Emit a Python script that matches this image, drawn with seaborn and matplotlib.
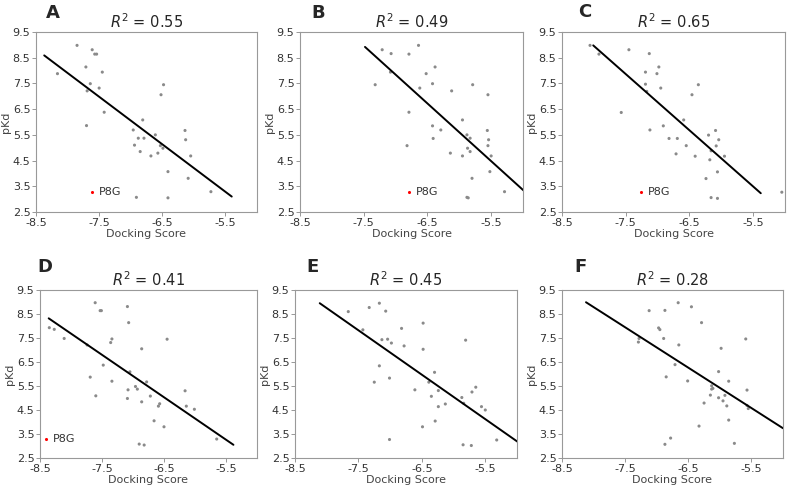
import numpy as np
import pandas as pd
import matplotlib
matplotlib.use('Agg')
from matplotlib import pyplot as plt
import seaborn as sns

sns.set_style('white')
plt.rcParams['font.family'] = ['DejaVu Sans']

# panel A
a_x = [-7.85, -7.61, -7.57, -7.54, -8.16, -7.71, -7.45, -7.64, -7.50, -7.69, -7.42, -7.70,
       -6.81, -6.48, -6.52, -6.96, -6.61, -6.88, -6.79, -6.94, -6.85, -6.68, -6.57, -6.53,
       -6.49, -6.14, -6.13, -6.05, -6.41, -6.09, -5.73, -6.91, -6.41]
a_y = [8.98, 8.81, 8.64, 8.64, 7.88, 8.14, 7.94, 7.49, 7.32, 7.21, 6.38, 5.86,
       6.08, 7.45, 7.06, 5.69, 5.50, 5.37, 5.37, 5.10, 4.85, 4.68, 4.79, 5.08,
       4.98, 5.67, 5.31, 4.68, 4.07, 3.81, 3.29, 3.07, 3.05]
a_fit_x = [-8.37, -5.40]
a_fit_y = [8.59, 3.10]
a_p8g = (-7.61, 3.29)

# panel B
b_x = [-6.64, -7.21, -7.07, -6.79, -6.38, -6.52, -7.08, -7.32, -6.42, -6.62, -6.12, -5.79,
       -5.55, -6.79, -5.95, -6.42, -6.29, -6.41, -5.56, -5.88, -5.54, -5.83, -5.55, -5.87,
       -5.83, -5.50, -5.95, -6.14, -6.82, -5.52, -5.80, -5.29, -5.88, -5.86]
b_y = [8.98, 8.81, 8.66, 8.64, 8.14, 7.88, 7.94, 7.45, 7.49, 7.32, 7.21, 7.45,
       7.06, 6.38, 6.08, 5.85, 5.69, 5.36, 5.67, 5.50, 5.31, 5.37, 5.08, 4.98,
       4.85, 4.68, 4.68, 4.79, 5.08, 4.07, 3.81, 3.29, 3.07, 3.05]
b_fit_x = [-7.48, -4.97]
b_fit_y = [8.92, 3.29]
b_p8g = (-6.79, 3.29)

# panel C
c_x = [-8.06, -7.92, -7.45, -7.13, -7.19, -6.98, -7.01, -7.19, -6.95, -7.17, -6.46, -6.36,
       -7.57, -6.59, -6.91, -7.12, -6.82, -6.69, -6.20, -6.09, -6.04, -6.08, -6.55, -6.16,
       -6.71, -6.41, -5.95, -6.18, -6.06, -6.24, -6.16, -6.06, -5.05]
c_y = [8.98, 8.64, 8.81, 8.66, 7.94, 8.14, 7.88, 7.47, 7.32, 7.19, 7.06, 7.45,
       6.37, 6.08, 5.85, 5.69, 5.36, 5.36, 5.49, 5.67, 5.31, 5.07, 5.08, 4.88,
       4.76, 4.67, 4.67, 4.53, 4.06, 3.80, 3.06, 3.03, 3.27]
c_fit_x = [-8.01, -5.38]
c_fit_y = [8.98, 3.23]
c_p8g = (-7.26, 3.29)

# panel D
d_x = [-7.61, -7.53, -7.51, -7.09, -7.07, -8.35, -8.27, -8.11, -7.34, -7.36, -7.74, -6.86,
       -6.45, -7.48, -7.69, -7.05, -7.34, -6.78, -6.96, -6.93, -7.08, -7.60, -6.72, -7.09,
       -6.86, -6.57, -6.59, -6.16, -6.14, -6.01, -6.66, -6.50, -6.90, -6.82, -5.65]
d_y = [8.97, 8.64, 8.64, 8.81, 8.14, 7.93, 7.86, 7.48, 7.46, 7.31, 7.21, 7.05,
       7.45, 6.37, 5.87, 6.09, 5.70, 5.67, 5.48, 5.37, 5.34, 5.09, 5.08, 4.98,
       4.84, 4.76, 4.66, 5.30, 4.66, 4.53, 4.05, 3.80, 3.08, 3.04, 3.29]
d_fit_x = [-8.36, -5.38]
d_fit_y = [8.32, 3.05]
d_p8g = (-8.40, 3.29)

# panel E
e_x = [-7.66, -7.33, -7.17, -7.07, -7.43, -6.82, -6.48, -7.13, -7.04, -6.98, -6.78, -6.48,
       -5.81, -7.17, -7.01, -7.25, -6.30, -6.61, -6.39, -6.24, -6.35, -6.24, -6.13, -6.29,
       -6.49, -5.65, -5.71, -5.87, -5.84, -5.56, -5.50, -7.01, -5.85, -5.72, -5.32]
e_y = [8.60, 8.77, 8.95, 8.62, 7.84, 7.90, 8.12, 7.43, 7.45, 7.29, 7.17, 7.03,
       7.41, 6.34, 5.83, 5.66, 6.07, 5.34, 5.66, 5.31, 5.07, 4.64, 4.75, 4.04,
       3.80, 5.45, 5.25, 5.02, 4.78, 4.64, 4.50, 3.27, 3.05, 3.02, 3.25]
e_fit_x = [-8.11, -4.96]
e_fit_y = [8.95, 3.12]

# panel F
f_x = [-6.66, -6.45, -7.12, -6.87, -6.29, -6.97, -6.95, -7.28, -7.29, -6.89, -6.65, -5.98,
       -5.59, -6.71, -6.85, -6.51, -6.02, -5.86, -6.13, -6.11, -6.13, -6.15, -5.92, -6.02,
       -5.57, -5.95, -6.25, -5.89, -5.57, -5.55, -5.86, -6.33, -6.78, -6.87, -5.77]
f_y = [8.97, 8.80, 8.64, 8.65, 8.14, 7.92, 7.85, 7.48, 7.33, 7.48, 7.21, 7.07,
       7.46, 6.39, 5.88, 5.71, 6.10, 5.70, 5.51, 5.40, 5.37, 5.12, 5.11, 5.01,
       5.33, 4.88, 4.79, 4.67, 4.69, 4.56, 4.08, 3.83, 3.33, 3.07, 3.11]
f_fit_x = [-8.12, -5.00]
f_fit_y = [8.99, 3.74]

letters = ['A', 'B', 'C', 'D', 'E', 'F']
r2_values = [0.55, 0.49, 0.65, 0.41, 0.45, 0.28]

panels = [
    (a_x, a_y, a_fit_x, a_fit_y, a_p8g),
    (b_x, b_y, b_fit_x, b_fit_y, b_p8g),
    (c_x, c_y, c_fit_x, c_fit_y, c_p8g),
    (d_x, d_y, d_fit_x, d_fit_y, d_p8g),
    (e_x, e_y, e_fit_x, e_fit_y, None),
    (f_x, f_y, f_fit_x, f_fit_y, None),
]

# axes rectangles in pixels: left, right, top, bottom
W, H = 792, 486
boxes = [(36, 257, 32, 212), (300, 523, 32, 212), (562, 785, 32, 212),
         (40, 257, 290, 458), (295, 517, 290, 458), (562, 783, 290, 458)]
letter_pos = [(53, 13), (318, 13), (585, 12), (45, 267), (313, 267), (580, 267)]

fig = plt.figure(figsize=(W / 100, H / 100), dpi=100)

for i, (xs, ys, fx, fy, p8g) in enumerate(panels):
    l, r, t, b = boxes[i]
    ax = fig.add_axes([l / W, (H - b) / H, (r - l) / W, (b - t) / H])
    df = pd.DataFrame({'Docking Score': xs, 'pKd': ys})
    sns.scatterplot(data=df, x='Docking Score', y='pKd', ax=ax, s=5,
                    color='#8a8a8a', edgecolor='none', linewidth=0)
    fit = pd.DataFrame({'x': fx, 'y': fy})
    sns.lineplot(data=fit, x='x', y='y', ax=ax, color='black', linewidth=1.4)
    if p8g is not None:
        ax.scatter([p8g[0]], [p8g[1]], s=5, color='red', linewidths=0, zorder=3)
        ax.annotate('P8G', xy=p8g, xytext=(5, 0), textcoords='offset points',
                    fontsize=8, color='#333333', va='center')
    ax.set_xlim(-8.5, -5.0)
    ax.set_ylim(2.5, 9.5)
    ax.set_xticks([-8.5, -7.5, -6.5, -5.5])
    ax.set_yticks(np.arange(2.5, 9.6, 1.0))
    ax.set_xticklabels(['-8.5', '-7.5', '-6.5', '-5.5'])
    ax.set_yticklabels([f'{v:.1f}' for v in np.arange(2.5, 9.6, 1.0)])
    ax.tick_params(axis='both', labelsize=8, length=3, width=0.6,
                   color='#888888', labelcolor='#333333', pad=1, direction='out',
                   bottom=True, left=True)
    for sp in ax.spines.values():
        sp.set_color('#999999')
        sp.set_linewidth(0.8)
    ax.set_xlabel('Docking Score', fontsize=8, color='#444444', labelpad=1)
    ax.set_ylabel('pKd', fontsize=8, color='#444444', labelpad=1)
    ax.set_title(f'$R^2$ = {r2_values[i]:.2f}', fontsize=10.5, pad=3)
    lx, ly = letter_pos[i]
    fig.text(lx / W, 1 - ly / H, letters[i], fontsize=13, fontweight='bold',
             ha='center', va='center')

plt.savefig('out.png', dpi=100)
plt.close()
